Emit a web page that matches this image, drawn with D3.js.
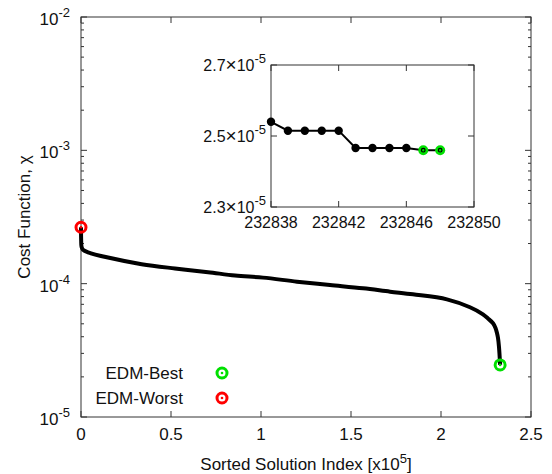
<!DOCTYPE html>
<html><head><meta charset="utf-8">
<script src="https://cdn.jsdelivr.net/npm/d3@7"></script>
<style>body{margin:0;background:#fff}svg{display:block}text{font-family:"Liberation Sans",Arial,Helvetica,sans-serif;fill:#111}</style>
</head><body>
<script>
// ---- data ----
const mainIndex = [0, 100, 300, 1000, 3900, 15000, 33700, 52200, 70600, 85600, 101100, 120000, 138300, 156700, 171700, 184400, 203300, 216100, 223300, 226100, 228900, 230280, 231100, 231670, 232200, 232848];
const mainCost  = [2.65e-4, 2.1e-4, 1.89e-4, 1.80e-4, 1.72e-4, 1.57e-4, 1.40e-4, 1.30e-4, 1.22e-4, 1.15e-4, 1.11e-4, 1.035e-4, 9.77e-5, 9.23e-5, 8.71e-5, 8.32e-5, 7.63e-5, 6.65e-5, 5.89e-5, 5.48e-5, 5.05e-5, 4.65e-5, 4.26e-5, 3.91e-5, 3.37e-5, 2.46e-5];
const insetIndex = [232838, 232839, 232840, 232841, 232842, 232843, 232844, 232845, 232846, 232847, 232848];
const insetCost  = [2.54e-5, 2.515e-5, 2.515e-5, 2.515e-5, 2.515e-5, 2.466e-5, 2.466e-5, 2.466e-5, 2.466e-5, 2.46e-5, 2.46e-5];
const bestIndex = [232847, 232848];
const bestCost  = [2.46e-5, 2.46e-5];
const worstIndex = [0];
const worstCost  = [2.65e-4];
const xTicks = [0, 0.5, 1, 1.5, 2, 2.5];           // x10^5
const yTickExp = [-2, -3, -4, -5];
const insetXTicks = [232838, 232842, 232846, 232850];
const insetYTicks = [2.3, 2.5, 2.7];                // x10^-5
const legendLabels = ["EDM-Best", "EDM-Worst"];
const legendColors = ["#00e000", "#ff0000"];

// ---- layout ----
const W = 552, H = 474;
const svg = d3.select("body").append("svg").attr("width", W).attr("height", H);
const L = 81, R = 531, T = 17, B = 417;
const x = d3.scaleLinear().domain([0, 2.5e5]).range([L, R]);
const y = d3.scaleLog().domain([1e-5, 1e-2]).range([B, T]);
const axisColor = "#333";
const FS = 17, SFS = 13;

// frame
svg.append("rect").attr("x", L).attr("y", T).attr("width", R - L).attr("height", B - T)
  .attr("fill", "none").attr("stroke", axisColor).attr("stroke-width", 1);

// y ticks (major + minor, both sides, inward)
const g = svg.append("g").attr("stroke", axisColor).attr("stroke-width", 1);
yTickExp.forEach(e => {
  const yy = y(Math.pow(10, e));
  g.append("line").attr("x1", L).attr("x2", L + 6).attr("y1", yy).attr("y2", yy);
  g.append("line").attr("x1", R).attr("x2", R - 6).attr("y1", yy).attr("y2", yy);
});
[-5, -4, -3].forEach(e => {
  for (let k = 2; k <= 9; k++) {
    const yy = y(k * Math.pow(10, e));
    g.append("line").attr("x1", L).attr("x2", L + 3).attr("y1", yy).attr("y2", yy);
    g.append("line").attr("x1", R).attr("x2", R - 3).attr("y1", yy).attr("y2", yy);
  }
});
// x ticks
xTicks.forEach(t => {
  const xx = x(t * 1e5);
  g.append("line").attr("x1", xx).attr("x2", xx).attr("y1", B).attr("y2", B - 6);
  g.append("line").attr("x1", xx).attr("x2", xx).attr("y1", T).attr("y2", T + 6);
});

// y tick labels
yTickExp.forEach(e => {
  const t = svg.append("text").attr("x", 70).attr("y", y(Math.pow(10, e)) + 8)
    .attr("text-anchor", "end").attr("font-size", FS);
  t.append("tspan").text("10");
  t.append("tspan").attr("dy", -8).attr("font-size", SFS).text(String(e));
});
// x tick labels
xTicks.forEach(t => {
  svg.append("text").attr("x", x(t * 1e5)).attr("y", 440).attr("text-anchor", "middle")
    .attr("font-size", FS).text(t === 0 ? "0" : String(t));
});
// axis titles
const xt = svg.append("text").attr("x", (L + R) / 2).attr("y", 470).attr("text-anchor", "middle").attr("font-size", FS);
xt.append("tspan").text("Sorted Solution Index [x10");
xt.append("tspan").attr("dy", -7).attr("font-size", SFS).text("5");
xt.append("tspan").attr("dy", 7).text("]");
svg.append("text").attr("transform", "translate(30,217) rotate(-90)").attr("text-anchor", "middle")
  .attr("font-size", FS).text("Cost Function, χ");

// main curve
const pts = mainIndex.map((d, i) => [x(d), y(mainCost[i])]);
svg.append("path").attr("d", d3.line().curve(d3.curveCatmullRom.alpha(0.5))(pts))
  .attr("fill", "none").attr("stroke", "#000").attr("stroke-width", 4).attr("stroke-linejoin", "round");

// ring markers
function ring(cx, cy, color) {
  svg.append("circle").attr("cx", cx).attr("cy", cy).attr("r", 5).attr("fill", "none")
    .attr("stroke", color).attr("stroke-width", 3);
  svg.append("circle").attr("cx", cx).attr("cy", cy).attr("r", 1.3).attr("fill", color);
}
worstIndex.forEach((d, i) => ring(x(d), y(worstCost[i]), legendColors[1]));
ring(x(bestIndex[1]), y(bestCost[1]), legendColors[0]);

// legend
legendLabels.forEach((lab, i) => {
  const yy = 373 + i * 25;
  svg.append("text").attr("x", 183).attr("y", yy + 6).attr("text-anchor", "end").attr("font-size", FS).text(lab);
  ring(222, yy, legendColors[i]);
});

// ---- inset ----
const iL = 271, iR = 474, iT = 65, iB = 207;
const ix = d3.scaleLinear().domain([232838, 232850]).range([iL, iR]);
const iy = d3.scaleLinear().domain([2.3e-5, 2.7e-5]).range([iB, iT]);
svg.append("rect").attr("x", iL).attr("y", iT).attr("width", iR - iL).attr("height", iB - iT)
  .attr("fill", "#fff").attr("stroke", axisColor).attr("stroke-width", 1);
const ig = svg.append("g").attr("stroke", axisColor).attr("stroke-width", 1);
insetXTicks.forEach(t => {
  ig.append("line").attr("x1", ix(t)).attr("x2", ix(t)).attr("y1", iB).attr("y2", iB - 6);
  ig.append("line").attr("x1", ix(t)).attr("x2", ix(t)).attr("y1", iT).attr("y2", iT + 6);
  svg.append("text").attr("x", ix(t)).attr("y", 228).attr("text-anchor", "middle").attr("font-size", 16).text(t);
});
insetYTicks.forEach(t => {
  const yy = iy(t * 1e-5);
  ig.append("line").attr("x1", iL).attr("x2", iL + 6).attr("y1", yy).attr("y2", yy);
  ig.append("line").attr("x1", iR).attr("x2", iR - 6).attr("y1", yy).attr("y2", yy);
  const tx = svg.append("text").attr("x", 266).attr("y", yy + 6).attr("text-anchor", "end").attr("font-size", 16);
  tx.append("tspan").text(t.toFixed(1));
  tx.append("tspan").attr("font-size", 19).text("×");
  tx.append("tspan").text("10");
  tx.append("tspan").attr("dy", -8).attr("font-size", SFS).text("-5");
});
svg.append("path").attr("d", d3.line()(insetIndex.map((d, i) => [ix(d), iy(insetCost[i])])))
  .attr("fill", "none").attr("stroke", "#000").attr("stroke-width", 2);
insetIndex.forEach((d, i) => {
  if (bestIndex.includes(d)) return;
  svg.append("circle").attr("cx", ix(d)).attr("cy", iy(insetCost[i])).attr("r", 4.2).attr("fill", "#000");
});
bestIndex.forEach((d, i) => {
  svg.append("circle").attr("cx", ix(d)).attr("cy", iy(bestCost[i])).attr("r", 5).attr("fill", legendColors[0]);
  svg.append("circle").attr("cx", ix(d)).attr("cy", iy(bestCost[i])).attr("r", 1.8).attr("fill", "none")
    .attr("stroke", "#000").attr("stroke-width", 1.2);
});
</script>
</body></html>
